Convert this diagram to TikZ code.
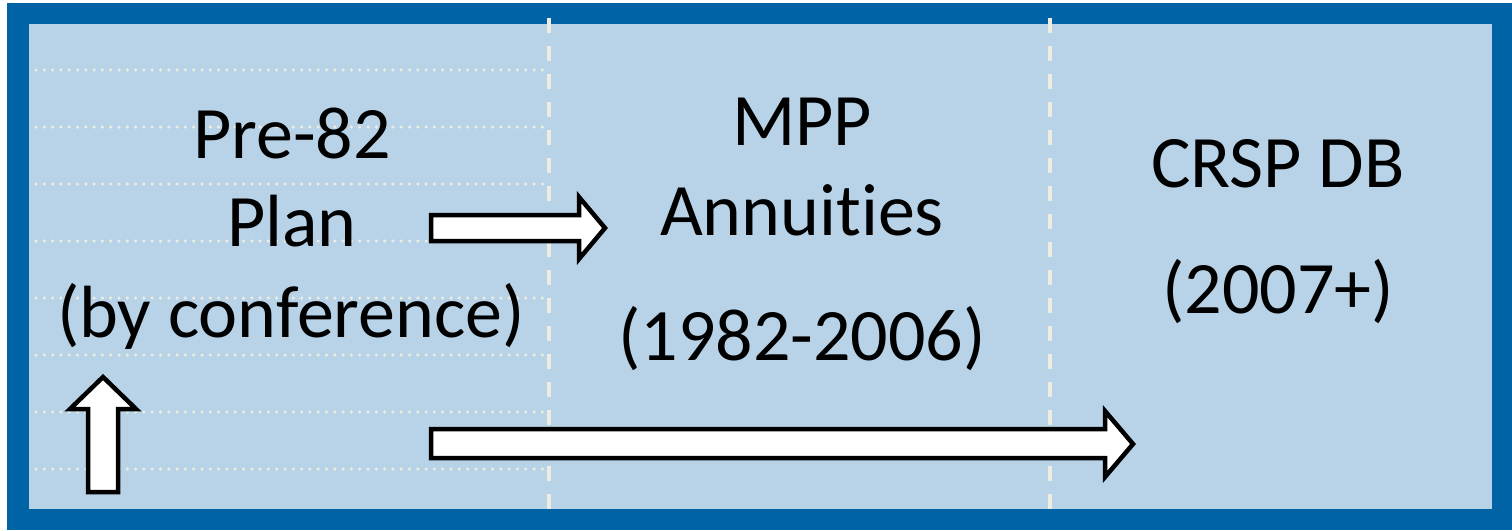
\documentclass[tikz,border=0pt]{standalone}
\usepackage{fontspec}
\setmainfont[Ligatures=CommonOff]{Carlito}
\usetikzlibrary{positioning}
\definecolor{frameblue}{RGB}{0,99,166}
\definecolor{panelblue}{RGB}{184,211,232}
\definecolor{dotwhite}{RGB}{238,236,225}

\begin{document}
\begin{tikzpicture}[x=1pt,y=-1pt,
  lbl/.style={anchor=base,inner sep=0pt,font=\fontsize{74}{88}\selectfont},
  blockarr/.style={draw=black,fill=white,line width=4.5pt},
  rule/.style={dotwhite,line width=3.5pt,line cap=round,dash pattern=on 0pt off 8.3pt},
  divider/.style={dotwhite,line width=4pt,dash pattern=on 15pt off 13pt}]
  \useasboundingbox (0,0) rectangle (1512,530);
  % frame and panel
  \fill[frameblue] (7,3) rectangle (1512,530);
  \fill[panelblue] (29,24) rectangle (1492,509);
  \foreach \y in {70,127,...,470}
    \draw[rule] (36,\y) -- (547,\y);
  \foreach \x in {549,1050}
    \draw[divider] (\x,18) -- (\x,509);
  % labels
  \node[lbl] (pre)  at (292,158) {Pre-82};
  \node[lbl] (plan) at (292,246) {Plan};
  \node[lbl] (conf) at (291,337) {(by conference)};
  \node[lbl] (mpp)  at (802,145) {MPP};
  \node[lbl] (ann)  at (802,235) {Annuities};
  \node[lbl] (yrsA) at (802,360) {(1982-2006)};
  \node[lbl] (crsp) at (1278,187) {CRSP DB};
  \node[lbl] (yrsB) at (1278,313) {(2007+)};
  % block arrows
  \draw[blockarr] (431,215) -- (579,215) -- (579,197) -- (605,228) -- (579,259) -- (579,241) -- (431,241) -- cycle;
  \draw[blockarr] (431,429) -- (1105,429) -- (1105,411) -- (1133,444) -- (1105,477) -- (1105,458) -- (431,458) -- cycle;
  \draw[blockarr] (88,492) -- (88,409) -- (70,409) -- (103,377) -- (136,409) -- (118,409) -- (118,492) -- cycle;
\end{tikzpicture}
\end{document}
